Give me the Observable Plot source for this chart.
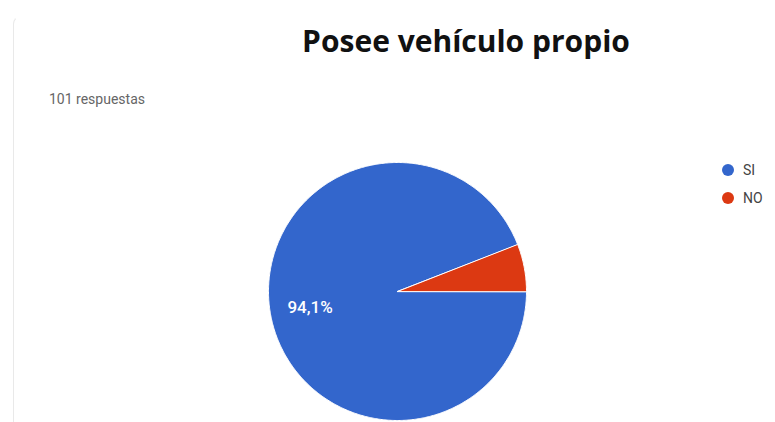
<!DOCTYPE html>
<html>
<head>
<meta charset="utf-8">
<script src="https://cdn.jsdelivr.net/npm/d3@7"></script>
<script src="https://cdn.jsdelivr.net/npm/@observablehq/plot@0.6"></script>
<style>
  body { margin: 0; background: #ffffff; }
  #wrap { position: relative; width: 775px; height: 422px; overflow: hidden; background: #fff; }
  #card { position: absolute; left: 13px; top: 16px; width: 900px; height: 500px;
          border-left: 1px solid #e9e9e9; border-top: 1px solid transparent; border-top-left-radius: 8px; }
  #title { position: absolute; left: 0; width: 932px; top: 26px; text-align: center;
           font-family: "Open Sans", Lato, sans-serif; font-weight: 700; font-size: 30px; line-height: 30px; color: #111; white-space: nowrap; }
  #subtitle { position: absolute; left: 49px; top: 92px; font-family: Roboto, Arial, sans-serif;
              font-size: 14px; line-height: 14px; color: #666; }
  #chart { position: absolute; left: 0; top: 0; }
  #legend { position: absolute; left: 722px; top: 163px; font-family: Roboto, Arial, sans-serif; font-size: 14px; color: #444; }
  .item { display: flex; align-items: center; height: 14px; margin-bottom: 14px; }
  .sw { width: 12px; height: 12px; border-radius: 50%; margin-right: 9px; }
</style>
</head>
<body>
<div id="wrap">
  <div id="card"></div>
  <div id="title">Posee vehículo propio</div>
  <div id="subtitle">101 respuestas</div>
  <div id="chart"></div>
  <div id="legend"></div>
</div>
<script>
const categories = ["SI", "NO"];
const counts = [95, 6];
const colors = ["#3366cc", "#dc3912"];
const totalLabel = "101 respuestas";

const total = d3.sum(counts);
const arcs = d3.pie().sort(null).startAngle(Math.PI / 2).endAngle(Math.PI / 2 + 2 * Math.PI)(counts);

// polygon outline of each slice, in unit coordinates (y up)
const pts = [];
arcs.forEach((a, i) => {
  const key = categories[i];
  pts.push({key, x: 0, y: 0});
  const n = Math.max(2, Math.ceil((a.endAngle - a.startAngle) / 0.01));
  for (let k = 0; k <= n; k++) {
    const t = a.startAngle + (a.endAngle - a.startAngle) * k / n;
    pts.push({key, x: Math.sin(t), y: Math.cos(t)});
  }
});

const labels = arcs
  .map((a, i) => {
    const m = (a.startAngle + a.endAngle) / 2;
    const pct = counts[i] / total * 100;
    return {key: categories[i], pct, x: 0.69 * Math.sin(m), y: 0.69 * Math.cos(m),
            text: pct.toFixed(1).replace(".", ",") + "%"};
  })
  .filter(d => d.pct > 10);

const chart = Plot.plot({
  width: 775,
  height: 422,
  marginLeft: 268,
  marginRight: 249,
  marginTop: 162,
  marginBottom: 2,
  x: {domain: [-1, 1], axis: null},
  y: {domain: [-1, 1], axis: null},
  color: {domain: categories, range: colors},
  style: {background: "transparent", overflow: "visible"},
  marks: [
    Plot.line(pts, {x: "x", y: "y", z: "key", fill: "key", stroke: "white", strokeWidth: 1, curve: "linear-closed"}),
    Plot.text(labels, {x: "x", y: "y", text: "text", fill: "white", fontSize: 17, fontFamily: "Roboto, Arial, sans-serif", fontWeight: 500})
  ]
});
document.getElementById("chart").appendChild(chart);

const legend = d3.select("#legend");
categories.forEach((c, i) => {
  const it = legend.append("div").attr("class", "item");
  it.append("div").attr("class", "sw").style("background", colors[i]);
  it.append("span").text(c);
});
</script>
</body>
</html>
